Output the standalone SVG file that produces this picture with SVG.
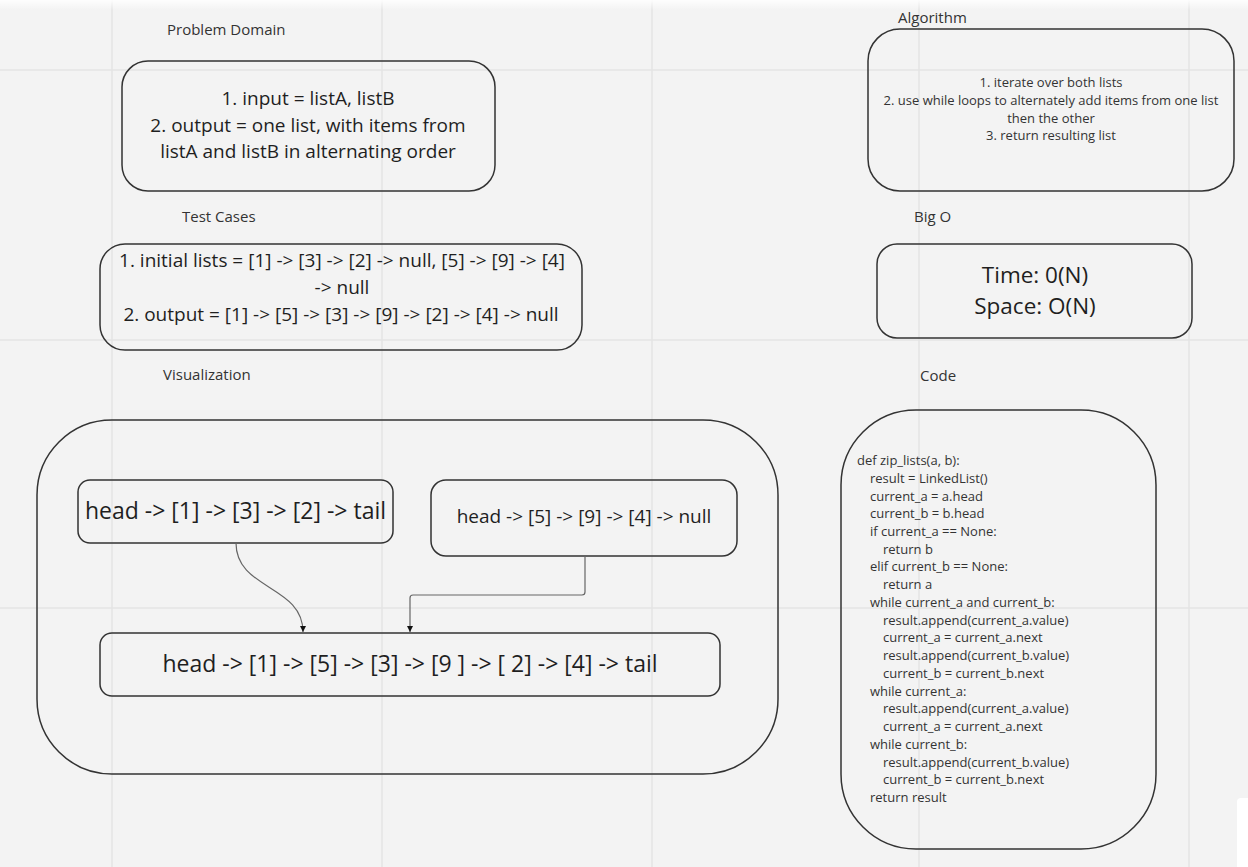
<svg xmlns="http://www.w3.org/2000/svg" width="1248" height="867" viewBox="0 0 1248 867">
<style>
text{font-family:"Open Sans","Noto Sans","Liberation Sans",sans-serif;fill:#1f1f1f;dominant-baseline:central}
.lbl{font-size:15px;fill:#333}
.box{fill:none;stroke:#333;stroke-width:1.5}
.grid{stroke:#e4e4e4;stroke-width:1.5}
.conn{fill:none;stroke:#666;stroke-width:1.2}
.mid{text-anchor:middle}
.t19{font-size:19px}
.t23{font-size:23px}
.t13{font-size:13px;fill:#333}
</style>
<defs>
<marker id="arr" viewBox="0 0 10 10" refX="10" refY="5" markerWidth="6" markerHeight="6" orient="auto" markerUnits="userSpaceOnUse">
<path d="M0,0 L10,5 L0,10 z" fill="#111"/>
</marker>
<linearGradient id="topfade" x1="0" y1="0" x2="0" y2="1">
<stop offset="0" stop-color="#ffffff" stop-opacity="0.9"/>
<stop offset="1" stop-color="#ffffff" stop-opacity="0"/>
</linearGradient>
</defs>
<rect width="1248" height="867" fill="#f3f3f3"/>
<g id="grid">
<line class="grid" x1="112" y1="0" x2="112" y2="867"/>
<line class="grid" x1="382" y1="0" x2="382" y2="867"/>
<line class="grid" x1="652" y1="0" x2="652" y2="867"/>
<line class="grid" x1="919" y1="0" x2="919" y2="867"/>
<line class="grid" x1="1189" y1="0" x2="1189" y2="867"/>
<line class="grid" x1="0" y1="70" x2="1248" y2="70"/>
<line class="grid" x1="0" y1="340" x2="1248" y2="340"/>
<line class="grid" x1="0" y1="608" x2="1248" y2="608"/>
</g>
<rect x="0" y="0" width="1248" height="10" fill="url(#topfade)"/>
<rect x="1237" y="798" width="30" height="80" rx="4" fill="#ffffff"/>

<g id="problem-domain">
<text class="lbl" x="167" y="29">Problem Domain</text>
<rect class="box" x="122" y="61" width="373" height="130" rx="26"/>
<text class="t19 mid" x="308" y="98">1. input = listA, listB</text>
<text class="t19 mid" x="308" y="124.5">2. output = one list, with items from</text>
<text class="t19 mid" x="308" y="151">listA and listB in alternating order</text>
</g>

<g id="test-cases">
<text class="lbl" x="182" y="216">Test Cases</text>
<rect class="box" x="100" y="244" width="482" height="106" rx="25"/>
<text class="t19 mid" x="342" y="260">1. initial lists = [1] -&gt; [3] -&gt; [2] -&gt; null, [5] -&gt; [9] -&gt; [4]</text>
<text class="t19 mid" x="342" y="287">-&gt; null</text>
<text class="t19 mid" x="341" y="314">2. output = [1] -&gt; [5] -&gt; [3] -&gt; [9] -&gt; [2] -&gt; [4] -&gt; null</text>
</g>

<g id="visualization">
<text class="lbl" x="163" y="374">Visualization</text>
<rect class="box" x="37" y="420" width="741" height="354" rx="75"/>
</g>

<g id="list-a">
<rect class="box" x="78" y="480" width="315" height="63" rx="12"/>
<text class="t23 mid" x="235.5" y="510">head -&gt; [1] -&gt; [3] -&gt; [2] -&gt; tail</text>
</g>

<g id="list-b">
<rect class="box" x="431" y="480" width="306" height="76" rx="15"/>
<text class="t19 mid" x="584" y="516">head -&gt; [5] -&gt; [9] -&gt; [4] -&gt; null</text>
</g>

<g id="list-result">
<rect class="box" x="100" y="633" width="620" height="63" rx="12"/>
<text class="t23 mid" x="410" y="663">head -&gt; [1] -&gt; [5] -&gt; [3] -&gt; [9 ] -&gt; [ 2] -&gt; [4] -&gt; tail</text>
</g>

<g id="connectors">
<path class="conn" d="M236,543 C236,590 303,585 303,632" marker-end="url(#arr)"/>
<path class="conn" d="M585,556 L585,592 Q585,595 582,595 L413,595 Q410,595 410,598 L410,632" marker-end="url(#arr)"/>
</g>

<g id="algorithm">
<text class="lbl" x="898" y="17">Algorithm</text>
<rect class="box" x="868" y="29" width="366" height="162" rx="32"/>
<text class="t13 mid" x="1051" y="82">1. iterate over both lists</text>
<text class="t13 mid" x="1051" y="100">2. use while loops to alternately add items from one list</text>
<text class="t13 mid" x="1051" y="117.5">then the other</text>
<text class="t13 mid" x="1051" y="135">3. return resulting list</text>
</g>

<g id="big-o">
<text class="lbl" x="914" y="216">Big O</text>
<rect class="box" x="877" y="244" width="315" height="94" rx="20"/>
<text class="mid" style="font-size:22.5px" x="1035" y="274">Time: 0(N)</text>
<text class="mid" style="font-size:22.5px" x="1035" y="305">Space: O(N)</text>
</g>

<g id="code">
<text class="lbl" x="920" y="375">Code</text>
<rect class="box" x="841" y="410" width="315" height="439" rx="75"/>
<text class="t13" x="857" y="460">def zip_lists(a, b):</text>
<text class="t13" x="870" y="477.7">result = LinkedList()</text>
<text class="t13" x="870" y="495.5">current_a = a.head</text>
<text class="t13" x="870" y="513.2">current_b = b.head</text>
<text class="t13" x="870" y="531">if current_a == None:</text>
<text class="t13" x="883" y="548.7">return b</text>
<text class="t13" x="870" y="566.4">elif current_b == None:</text>
<text class="t13" x="883" y="584.2">return a</text>
<text class="t13" x="870" y="601.9">while current_a and current_b:</text>
<text class="t13" x="883" y="619.7">result.append(current_a.value)</text>
<text class="t13" x="883" y="637.4">current_a = current_a.next</text>
<text class="t13" x="883" y="655.1">result.append(current_b.value)</text>
<text class="t13" x="883" y="672.9">current_b = current_b.next</text>
<text class="t13" x="870" y="690.6">while current_a:</text>
<text class="t13" x="883" y="708.4">result.append(current_a.value)</text>
<text class="t13" x="883" y="726.1">current_a = current_a.next</text>
<text class="t13" x="870" y="743.8">while current_b:</text>
<text class="t13" x="883" y="761.6">result.append(current_b.value)</text>
<text class="t13" x="883" y="779.3">current_b = current_b.next</text>
<text class="t13" x="870" y="797">return result</text>
</g>
</svg>
